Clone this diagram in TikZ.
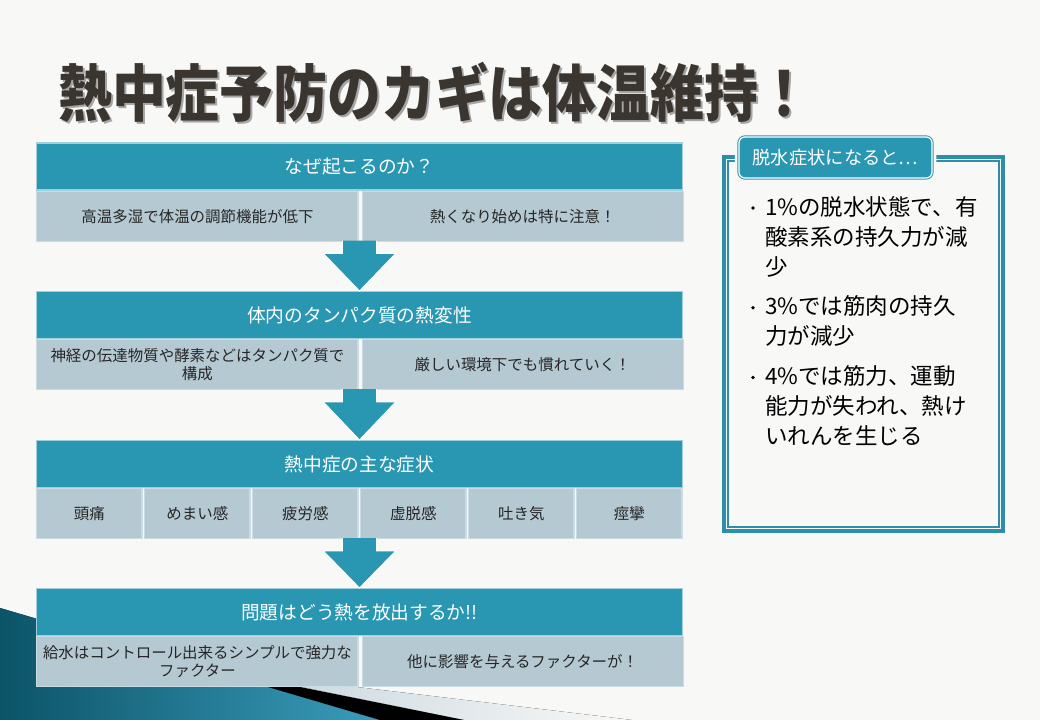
\documentclass[tikz,border=0pt]{standalone}
\usepackage{fontspec}
\newfontfamily\jp{Noto Sans CJK JP}
\usepackage{xcolor}
\definecolor{hdrteal}{HTML}{2A97B2}
\definecolor{subfill}{HTML}{B5C9D3}
\definecolor{subline}{HTML}{CCDAE1}
\definecolor{frameteal}{HTML}{2E8DA8}
\definecolor{titleink}{HTML}{3B3530}
\definecolor{pagebg}{HTML}{F8F8F7}
\definecolor{swoosh}{HTML}{0C5468}
\definecolor{swooshlight}{HTML}{3A9CBB}
\usepackage{tikz}
\usetikzlibrary{
  positioning,
  calc
}

\begin{document}
\begin{tikzpicture}[
  x=0.025cm, y=-0.025cm,
  hdr/.style={rectangle, fill=hdrteal, draw=white!55!hdrteal, line width=0.8pt, minimum width=16.125cm, minimum height=1.175cm, inner sep=0pt, text=white, font=\jp\fontsize{13.3}{16}\selectfont},
  subbox/.style={rectangle, fill=subfill, draw=subline, line width=0.8pt, minimum width=8.025cm, minimum height=1.25cm, inner sep=0pt, text=black!85, font=\jp\fontsize{11}{13}\selectfont, align=center},
  blockarr/.style={fill=hdrteal, draw=white, line width=0.6pt},
  pt/.style={anchor=north west, inner sep=0pt, text width=6cm, align=left, font=\jp\fontsize{16}{21.3}\selectfont},
  tab/.style={rectangle, rounded corners=0.15cm, fill=hdrteal, draw=hdrteal, line width=0.7pt, double=white, double distance=0.9pt, preaction={draw=pagebg, line width=6pt}, minimum width=4.825cm, minimum height=1.025cm, inner sep=0pt, text=white, font=\jp\fontsize{13}{16}\selectfont},
]

% page and margins
\useasboundingbox (0,0) rectangle (1040,720);
\fill[pagebg] (0,0) rectangle (1040,720);

% corner swoosh
\fill[left color=swoosh, right color=swooshlight] (0,608) -- (380,720) -- (0,720) -- cycle;
\fill[black] (200,667) -- (465,720) -- (380,720) -- cycle;
\fill[left color=subfill!80!white, right color=pagebg] (223,671) -- (632,720) -- (465,720) -- cycle;

% title
\node[text=black!35, font=\jp\bfseries\fontsize{44}{50}\selectfont] (ttlshade) at (437,94) {\scalebox{0.87}[1]{熱中症予防のカギは体温維持！}};
\node[text=titleink, font=\jp\bfseries\fontsize{44}{50}\selectfont] (ttl) at (435,92) {\scalebox{0.87}[1]{熱中症予防のカギは体温維持！}};

% flow blocks
\node[hdr] (h1) at (359.5,166.5) {なぜ起こるのか？};
\node[subbox, anchor=north west] (s1a) at (h1.south west) {高温多湿で体温の調節機能が低下};
\node[subbox, right=0.075cm of s1a] (s1b) {熱くなり始めは特に注意！};

\node[hdr] (h2) at (359.5,315) {体内のタンパク質の熱変性};
\node[subbox, anchor=north west] (s2a) at (h2.south west) {神経の伝達物質や酵素などはタンパク質で\\構成};
\node[subbox, right=0.075cm of s2a] (s2b) {厳しい環境下でも慣れていく！};

\node[hdr] (h3) at (359.5,464) {熱中症の主な症状};
\foreach \t [count=\i] in {頭痛, めまい感, 疲労感, 虚脱感, 吐き気, 痙攣}
  \node[subbox, minimum width=2.625cm, anchor=north west] (s3\i) at ($(h3.south west)+({(\i-1)*108},0)$) {\t};

\node[hdr] (h4) at (359.5,612) {問題はどう熱を放出するか!!};
\node[subbox, anchor=north west] (s4a) at (h4.south west) {給水はコントロール出来るシンプルで強力な\\ファクター};
\node[subbox, right=0.075cm of s4a] (s4b) {他に影響を与えるファクターが！};

% block arrows
\foreach \a/\b in {h1/h2, h2/h3, h3/h4}
  \path[blockarr] ($(\a.south)+(-17,50)$) -- ($(\a.south)+(-17,63)$) -- ($(\a.south)+(-36,63)$) -- (\b.north)
    -- ($(\a.south)+(36,63)$) -- ($(\a.south)+(17,63)$) -- ($(\a.south)+(17,50)$);

% side panel
\node[draw=frameteal, line width=0.1cm, minimum width=6.975cm, minimum height=9.35cm, inner sep=0pt] (dbox) at (863.5,344) {};
\draw[frameteal, line width=1pt] ($(dbox.north west)+(6,6)$) rectangle ($(dbox.south east)+(-6,-6)$);
\node[tab] (dtab) at (835.5,157.5) {脱水症状になると…};

\node[pt] (p1) at (765,196) {1\%の脱水状態で、有\\酸素系の持久力が減\\少};
\node[pt, below=0.46cm of p1] (p2) {3\%では筋肉の持久\\力が減少};
\node[pt, below=0.46cm of p2] (p3) {4\%では筋力、運動\\能力が失われ、熱け\\いれんを生じる};
\foreach \p in {p1, p2, p3}
  \fill ($(\p.north west)+(-12,12)$) circle (1.3pt);

\end{tikzpicture}
\end{document}
